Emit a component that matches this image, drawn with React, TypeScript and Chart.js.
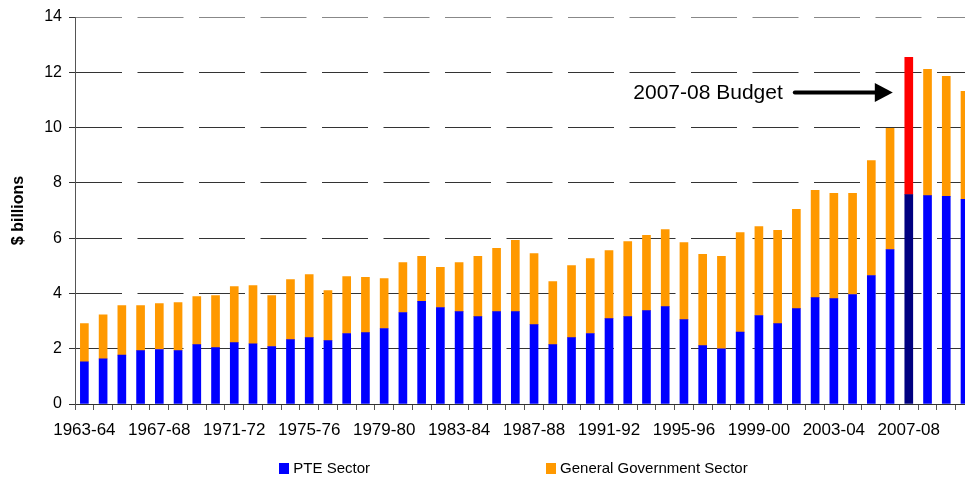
import React, { useEffect, useRef } from 'react';
import { Chart, registerables } from 'chart.js';

Chart.register(...registerables);

const categories = [
  '1963-64', '1964-65', '1965-66', '1966-67', '1967-68', '1968-69', '1969-70', '1970-71',
  '1971-72', '1972-73', '1973-74', '1974-75', '1975-76', '1976-77', '1977-78', '1978-79',
  '1979-80', '1980-81', '1981-82', '1982-83', '1983-84', '1984-85', '1985-86', '1986-87',
  '1987-88', '1988-89', '1989-90', '1990-91', '1991-92', '1992-93', '1993-94', '1994-95',
  '1995-96', '1996-97', '1997-98', '1998-99', '1999-00', '2000-01', '2001-02', '2002-03',
  '2003-04', '2004-05', '2005-06', '2006-07', '2007-08', '2008-09', '2009-10', '2010-11',
];

const pteSector = [
  1.53, 1.63, 1.77, 1.93, 1.97, 1.93, 2.15, 2.04, 2.22, 2.18,
  2.08, 2.33, 2.4, 2.29, 2.55, 2.58, 2.73, 3.31, 3.71, 3.49,
  3.34, 3.16, 3.34, 3.34, 2.87, 2.15, 2.4, 2.55, 3.09, 3.16,
  3.38, 3.52, 3.05, 2.11, 2.0, 2.6, 3.2, 2.91, 3.45, 3.85,
  3.81, 3.96, 4.65, 5.59, 7.58, 7.54, 7.51, 7.4,
];

const generalGovernment = [
  1.38, 1.6, 1.79, 1.63, 1.66, 1.74, 1.74, 1.88, 2.03, 2.1,
  1.84, 2.17, 2.28, 1.81, 2.06, 2.0, 1.81, 1.81, 1.63, 1.45,
  1.78, 2.18, 2.29, 2.58, 2.57, 2.28, 2.61, 2.71, 2.46, 2.72,
  2.72, 2.79, 2.79, 3.3, 3.34, 3.6, 3.22, 3.37, 3.59, 3.88,
  3.81, 3.66, 4.16, 4.38, 4.96, 4.57, 4.34, 3.91,
];

const yTicks = [0, 2, 4, 6, 8, 10, 12, 14];
const seriesNames = ['PTE Sector', 'General Government Sector'];
const budgetIndex = 44;
const budgetLabel = '2007-08 Budget';
const budgetArrowValue = 11.27;

const PTE_COLOR = '#0000FF';
const PTE_BUDGET_COLOR = '#000080';
const GG_COLOR = '#FF9900';
const GG_BUDGET_COLOR = '#FF0000';
const FONT = '"Liberation Sans", Arial, Helvetica, sans-serif';

const extrasPlugin = {
  id: 'extras',
  afterDraw(chart: any) {
    const ctx = chart.ctx;
    const xs = chart.scales.x;
    const ys = chart.scales.y;
    // Annotation text + arrow
    const tipX = xs.getPixelForValue(budgetIndex) - 16;
    const arrowY = ys.getPixelForValue(budgetArrowValue);
    ctx.save();
    ctx.fillStyle = '#000';
    ctx.strokeStyle = '#000';
    ctx.font = `21px ${FONT}`;
    ctx.textAlign = 'right';
    ctx.textBaseline = 'middle';
    ctx.fillText(budgetLabel, tipX - 110, arrowY + 1);
    ctx.lineWidth = 4;
    ctx.lineCap = 'round';
    ctx.beginPath();
    ctx.moveTo(tipX - 98, arrowY);
    ctx.lineTo(tipX - 16, arrowY);
    ctx.stroke();
    ctx.beginPath();
    ctx.moveTo(tipX - 18, arrowY - 9.5);
    ctx.lineTo(tipX, arrowY);
    ctx.lineTo(tipX - 18, arrowY + 9.5);
    ctx.closePath();
    ctx.fill();

    // Legend
    const colors = [PTE_COLOR, GG_COLOR];
    ctx.font = `15px ${FONT}`;
    ctx.textAlign = 'left';
    const boxW = 10;
    const boxH = 11;
    const textGap = 4;
    const itemGap = 176;
    const widths = seriesNames.map((n) => boxW + textGap + ctx.measureText(n).width);
    const total = widths[0] + itemGap + widths[1];
    const centerX = 513.5;
    const cy = chart.height - 8.5;
    let x = centerX - total / 2;
    seriesNames.forEach((name, i) => {
      ctx.fillStyle = colors[i];
      ctx.fillRect(Math.round(x), Math.round(cy - boxH / 2), boxW, boxH);
      ctx.fillStyle = '#000';
      ctx.fillText(name, x + boxW + textGap, cy + 0.5);
      x += widths[i] + itemGap;
    });
    ctx.restore();
  },
};

export default function App() {
  const canvasRef = useRef<HTMLCanvasElement | null>(null);

  useEffect(() => {
    document.body.style.margin = '0';
    const canvas = canvasRef.current;
    if (!canvas) return;
    Chart.defaults.font.family = FONT;
    Chart.defaults.color = '#000';

    const chart = new Chart(canvas, {
      type: 'bar',
      data: {
        labels: categories,
        datasets: [
          {
            label: seriesNames[0],
            data: pteSector,
            backgroundColor: pteSector.map((_, i) => (i === budgetIndex ? PTE_BUDGET_COLOR : PTE_COLOR)),
            borderWidth: 0,
            barThickness: 8,
            stack: 's',
          },
          {
            label: seriesNames[1],
            data: generalGovernment,
            backgroundColor: generalGovernment.map((_, i) => (i === budgetIndex ? GG_BUDGET_COLOR : GG_COLOR)),
            borderWidth: 0,
            barThickness: 8,
            stack: 's',
          },
        ],
      },
      options: {
        responsive: false,
        animation: false,
        layout: { padding: { top: 17, bottom: 33, left: 0, right: 0 } },
        plugins: {
          legend: { display: false },
          tooltip: { enabled: false },
        },
        scales: {
          x: {
            stacked: true,
            grid: {
              display: true,
              drawOnChartArea: false,
              drawTicks: true,
              tickLength: 6,
              color: '#555',
              offset: true,
            },
            border: { color: '#333', width: 1 },
            ticks: {
              autoSkip: false,
              maxRotation: 0,
              minRotation: 0,
              padding: 10,
              font: { size: 17 },
              color: '#000',
              callback: (_v: any, i: number) => (i % 4 === 0 ? categories[i] : ''),
            },
            afterFit: (s: any) => {
              s.height = 40;
            },
          },
          y: {
            stacked: true,
            min: yTicks[0],
            max: yTicks[yTicks.length - 1],
            afterBuildTicks: (s: any) => {
              s.ticks = yTicks.map((v) => ({ value: v }));
            },
            grid: {
              color: (c: any) => (c.tick && c.tick.value === 14 ? '#888' : '#333'),
              tickColor: '#333',
              tickLength: 6,
              lineWidth: 1,
            },
            border: { color: '#555', width: 1, dash: [46, 15.5] },
            ticks: {
              padding: 7,
              font: { size: 16 },
              color: '#000',
            },
            title: {
              display: true,
              text: '$ billions',
              font: { size: 16, weight: 'bold' },
              color: '#000',
              padding: { top: 9, bottom: 0 },
            },
            afterFit: (s: any) => {
              s.width = 75;
            },
          },
        },
      },
      plugins: [extrasPlugin],
    } as any);

    return () => chart.destroy();
  }, []);

  return (
    <div style={{ width: 965, height: 477, overflow: 'hidden', position: 'relative' }}>
      <canvas ref={canvasRef} width={975} height={477} style={{ display: 'block' }} />
    </div>
  );
}
